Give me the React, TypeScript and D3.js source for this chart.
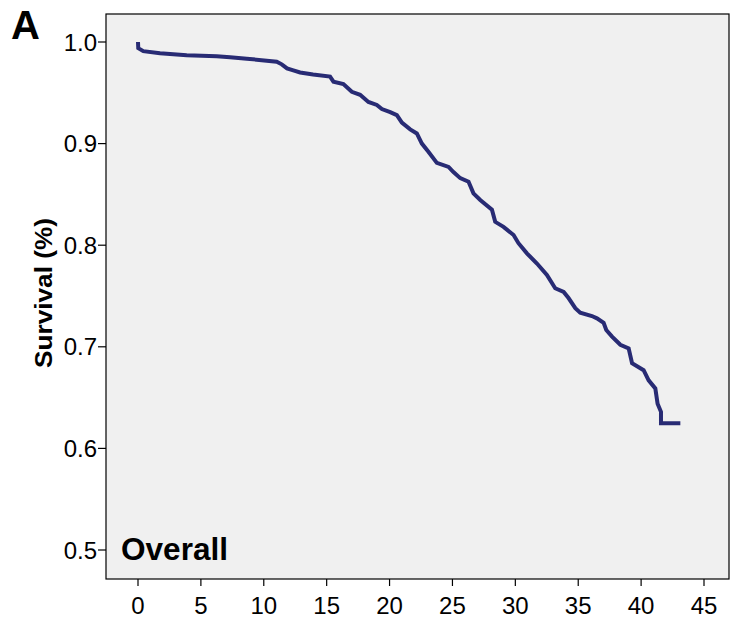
import React, { useEffect } from "react";
import * as d3 from "d3";

const times: number[] = [0, 0.02, 0.42, 1.75, 3.87, 6.26, 7.32, 8.65, 11.03, 11.43, 11.85, 12.35, 12.89, 13.92, 15.27, 15.54, 16.33, 17.0, 17.66, 18.32, 18.99, 19.39, 20.05, 20.58, 20.98, 21.64, 22.17, 22.57, 23.09, 23.76, 24.69, 25.08, 25.62, 26.28, 26.67, 27.21, 28.14, 28.4, 29.06, 29.86, 30.25, 30.92, 31.72, 32.51, 33.17, 33.84, 34.23, 34.77, 35.16, 36.09, 36.49, 37.02, 37.23, 37.69, 38.35, 39.01, 39.28, 40.2, 40.6, 41.13, 41.31, 41.58, 41.58, 43.12];
const survival: number[] = [1.0, 0.994, 0.991, 0.989, 0.987, 0.986, 0.985, 0.9836, 0.9806, 0.978, 0.974, 0.972, 0.970, 0.968, 0.966, 0.961, 0.9587, 0.951, 0.948, 0.941, 0.938, 0.934, 0.931, 0.928, 0.9206, 0.914, 0.910, 0.900, 0.892, 0.881, 0.877, 0.872, 0.866, 0.8625, 0.851, 0.8445, 0.835, 0.823, 0.818, 0.810, 0.802, 0.792, 0.782, 0.7707, 0.7576, 0.754, 0.748, 0.738, 0.7336, 0.7303, 0.728, 0.7237, 0.7165, 0.710, 0.702, 0.6985, 0.6838, 0.677, 0.667, 0.659, 0.644, 0.636, 0.6247, 0.6247];
const xTicks: number[] = [0, 5, 10, 15, 20, 25, 30, 35, 40, 45];
const yTicks: number[] = [0.5, 0.6, 0.7, 0.8, 0.9, 1.0];

const W = 731, H = 622;
const L = 106, R = 729, T = 14, B = 579;

export default function App() {
  useEffect(() => { document.body.style.margin = "0"; }, []);
  const x = d3.scaleLinear().domain([0, 45]).range([138, 704]);
  const y = d3.scaleLinear().domain([0.5, 1.0]).range([550, 42]);
  const pts = times.map((t, i) => [x(t), y(survival[i])] as [number, number]);
  const line = d3.line().curve(d3.curveLinear)(pts) || "";
  const font = "'Liberation Sans', Arial, Helvetica, sans-serif";
  return (
    <svg width={W} height={H} style={{ display: "block" }} fontFamily={font}>
      <rect x={0} y={0} width={W} height={H} fill="#fff" />
      <rect x={L} y={T} width={R - L} height={B - T} fill="#f0f0f0" stroke="#000" strokeWidth={1.2} />
      {yTicks.map((v) => (
        <g key={v}>
          <line x1={L - 8} x2={L} y1={y(v)} y2={y(v)} stroke="#000" strokeWidth={1.2} />
          <text x={L - 9} y={y(v)} dy="0.36em" textAnchor="end" fontSize={24} fill="#000">{v.toFixed(1)}</text>
        </g>
      ))}
      {xTicks.map((v) => (
        <g key={v}>
          <line x1={x(v)} x2={x(v)} y1={B} y2={B + 7} stroke="#000" strokeWidth={1.2} />
          <text x={x(v)} y={614} textAnchor="middle" fontSize={24} fill="#000">{v}</text>
        </g>
      ))}
      <path d={line} fill="none" stroke="#282b74" strokeWidth={4} strokeLinejoin="miter" />
      <text x={121} y={560} fontSize={31} fontWeight="bold" fill="#000" textLength={107} lengthAdjust="spacingAndGlyphs">Overall</text>
      <text x={11} y={39} fontSize={40} fontWeight="bold" fill="#000">A</text>
      <text transform="translate(52,293) rotate(-90)" textAnchor="middle" fontSize={24} fontWeight="bold" fill="#000" textLength={150} lengthAdjust="spacingAndGlyphs">Survival (%)</text>
    </svg>
  );
}
